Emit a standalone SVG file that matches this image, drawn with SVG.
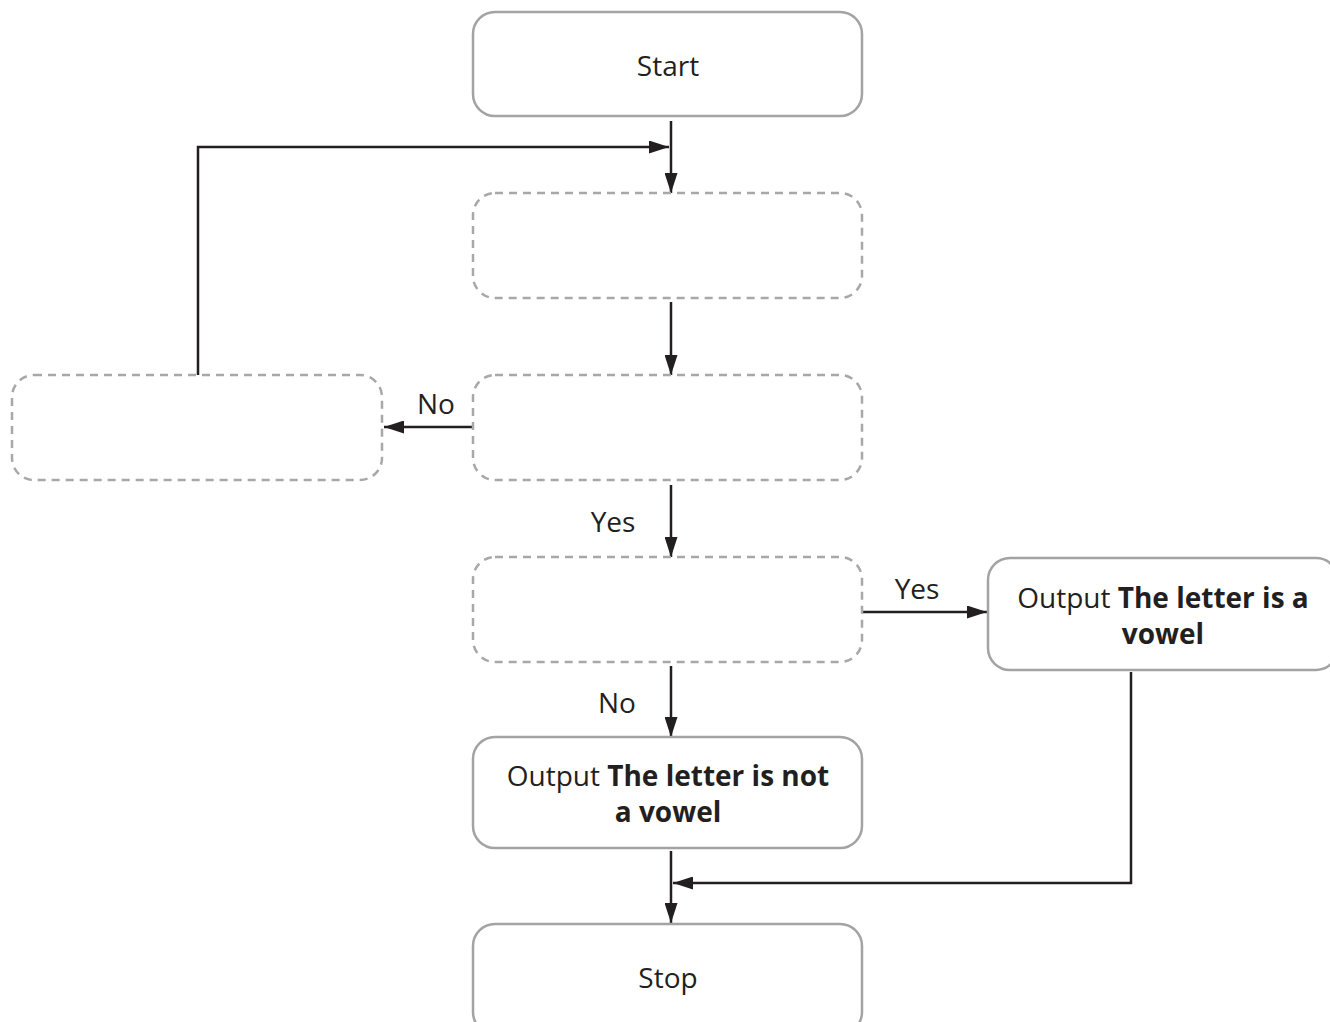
<svg xmlns="http://www.w3.org/2000/svg" width="1330" height="1022" viewBox="0 0 1330 1022">
<style>
.box{fill:#fff;stroke:#a3a3a3;stroke-width:2.5}
.dash{fill:#fff;stroke:#a8a8a8;stroke-width:2.5;stroke-dasharray:8 6}
.t{font-family:"Open Sans","Liberation Sans",sans-serif;font-size:28px;fill:#231f20;text-anchor:middle}
.b{font-weight:bold}
.c{fill:none;stroke:#231f20;stroke-width:2.5}
</style>
<defs>
<marker id="ah" markerWidth="20" markerHeight="13" refX="20" refY="6.5" orient="auto" markerUnits="userSpaceOnUse">
<path d="M0,0 L20,6.5 L0,13 Z" fill="#231f20"/>
</marker>
</defs>
<g id="connectors">
<path class="c" d="M671,121 V193" marker-end="url(#ah)"/>
<path class="c" d="M198,375 V147 H669" marker-end="url(#ah)"/>
<path class="c" d="M671,302 V375" marker-end="url(#ah)"/>
<path class="c" d="M473,427 H384" marker-end="url(#ah)"/>
<path class="c" d="M671,485 V557" marker-end="url(#ah)"/>
<path class="c" d="M862,612 H987" marker-end="url(#ah)"/>
<path class="c" d="M671,666 V737" marker-end="url(#ah)"/>
<path class="c" d="M671,851 V923" marker-end="url(#ah)"/>
<path class="c" d="M1131,672 V883 H673" marker-end="url(#ah)"/>
<text class="t" x="436" y="414">No</text>
<text class="t" x="613" y="532">Yes</text>
<text class="t" x="917" y="599">Yes</text>
<text class="t" x="617" y="713">No</text>
</g>
<g id="start">
<rect class="box" x="473" y="12" width="389" height="104" rx="22"/>
<text class="t" x="668" y="76">Start</text>
</g>
<g id="step1">
<rect class="dash" x="473" y="193" width="389" height="105" rx="22"/>
</g>
<g id="decision1">
<rect class="dash" x="473" y="375" width="389" height="105" rx="22"/>
</g>
<g id="noBox">
<rect class="dash" x="12" y="375" width="370" height="105" rx="22"/>
</g>
<g id="decision2">
<rect class="dash" x="473" y="557" width="389" height="105" rx="22"/>
</g>
<g id="vowel">
<rect class="box" x="988" y="558" width="350" height="112" rx="22"/>
<text class="t" x="1163" y="608">Output <tspan class="b">The letter is a</tspan></text>
<text class="t b" x="1163" y="644">vowel</text>
</g>
<g id="notVowel">
<rect class="box" x="473" y="737" width="389" height="111" rx="22"/>
<text class="t" x="668" y="786">Output <tspan class="b">The letter is not</tspan></text>
<text class="t b" x="668" y="822">a vowel</text>
</g>
<g id="stop">
<rect class="box" x="473" y="924" width="389" height="110" rx="22"/>
<text class="t" x="668" y="988">Stop</text>
</g>
</svg>
